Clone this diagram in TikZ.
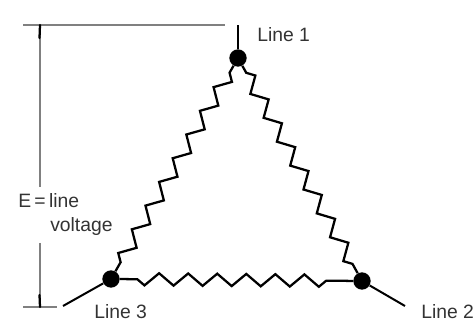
\documentclass[tikz,border=0pt]{standalone}
\usepackage{fontspec}
\setmainfont{Liberation Sans}
\usetikzlibrary{decorations.pathmorphing}
\tikzset{
  x=0.75pt,y=-0.75pt,
  junction/.style={circle,fill=black,inner sep=0pt,minimum size=13pt},
  dimline/.style={draw=black!50,line width=1pt},
  tickarrow/.style={draw=black,line width=1.7pt,line cap=round},
  lead/.style={draw=black,line width=1.5pt},
  zig/.style={draw=black,line width=1.7pt,decorate,decoration={zigzag,amplitude=5pt,segment length=20.5pt,pre=lineto,pre length=6pt,post=lineto,post length=6pt}},
  zigh/.style={zig,decoration={zigzag,mirror,amplitude=4.6pt,segment length=21.8pt,pre=lineto,pre length=13pt,post=lineto,post length=11pt}},
  lbl/.style={inner sep=0pt,anchor=west,font=\fontsize{14.5}{16}\selectfont,text=black!80}
}
\begin{document}
\begin{tikzpicture}
\useasboundingbox (0,0) rectangle (476,323);
\node[junction] (n1) at (238,58) {};
\node[junction] (n2) at (362,281) {};
\node[junction] (n3) at (111,279) {};
\coordinate (t1) at (238,25);
\coordinate (t2) at (405,306);
\coordinate (t3) at (63,306);
\draw[lead] (n1) -- (t1);
\draw[lead] (n2) -- (t2);
\draw[lead] (n3) -- (t3);
\draw[zig] (n1) -- (n3);
\draw[zig] (n1) -- (n2);
\draw[zigh] (n3) -- (n2);
% dimension
\coordinate (a) at (23,25); \coordinate (b) at (225,25);
\coordinate (c) at (23,307); \coordinate (d) at (57,307);
\coordinate (v1) at (40,25); \coordinate (v2) at (40,187);
\coordinate (v3) at (40,243); \coordinate (v4) at (40,307);
\coordinate (a1) at (39.5,38); \coordinate (a2) at (39.5,295);
\draw[dimline] (a) -- (b);
\draw[dimline] (c) -- (d);
\draw[dimline] (v1) -- (v2);
\draw[dimline] (v3) -- (v4);
\draw[tickarrow] (v1) -- (a1);
\draw[tickarrow] (v4) -- (a2);
\node[lbl] (l1) at (257,35) {Line 1};
\node[lbl] (l2) at (421,312) {Line 2};
\node[lbl] (l3) at (94,312) {Line 3};
\node[lbl] (e) at (18,201) {E\hspace{2.5pt}=\hspace{2.5pt}line};
\node[lbl] (vv) at (50,227) {voltage};
\end{tikzpicture}
\end{document}
